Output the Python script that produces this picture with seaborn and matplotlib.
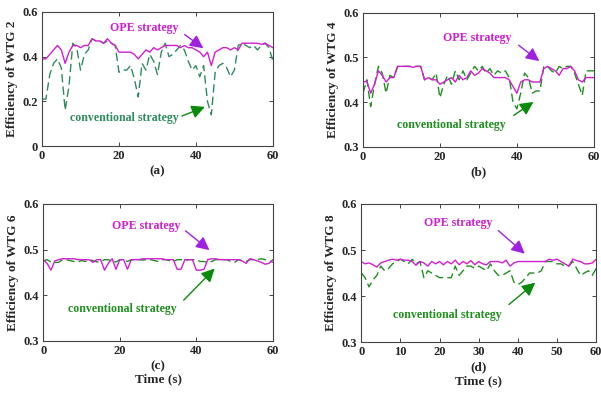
import numpy as np
import pandas as pd
import matplotlib
matplotlib.use("Agg")
import matplotlib.pyplot as plt
import seaborn as sns

# ---------------------------------------------------------------
# data (efficiency vs time, 1 s sampling)
# ---------------------------------------------------------------
time_s = list(range(61))

ope_wtg2 = [0.39, 0.39, 0.41, 0.43, 0.45, 0.43, 0.37, 0.42, 0.45, 0.45,
            0.44, 0.45, 0.45, 0.48, 0.47, 0.47, 0.46, 0.48, 0.46, 0.45,
            0.42, 0.42, 0.42, 0.42, 0.41, 0.39, 0.41, 0.43, 0.42, 0.44,
            0.43, 0.44, 0.45, 0.45, 0.45, 0.45, 0.44, 0.45, 0.44, 0.44,
            0.43, 0.42, 0.40, 0.42, 0.36, 0.42, 0.43, 0.44, 0.44, 0.43,
            0.44, 0.43, 0.46, 0.46, 0.46, 0.46, 0.46, 0.455, 0.46, 0.45,
            0.44]
conv_wtg2 = [0.21, 0.21, 0.32, 0.37, 0.39, 0.35, 0.16, 0.27, 0.46, 0.44,
             0.34, 0.41, 0.43, 0.48, 0.47, 0.47, 0.46, 0.47, 0.46, 0.45,
             0.33, 0.34, 0.34, 0.36, 0.30, 0.22, 0.37, 0.34, 0.41, 0.38,
             0.32, 0.42, 0.46, 0.40, 0.41, 0.43, 0.45, 0.43, 0.38, 0.34,
             0.36, 0.31, 0.36, 0.20, 0.14, 0.33, 0.36, 0.37, 0.35, 0.31,
             0.34, 0.45, 0.46, 0.45, 0.44, 0.45, 0.43, 0.45, 0.46, 0.44,
             0.38]

ope_wtg4 = [0.445, 0.447, 0.42, 0.44, 0.47, 0.46, 0.445, 0.455, 0.455, 0.48,
            0.48, 0.48, 0.48, 0.478, 0.48, 0.48, 0.45, 0.455, 0.45, 0.45,
            0.44, 0.445, 0.45, 0.455, 0.445, 0.46, 0.45, 0.455, 0.47, 0.46,
            0.465, 0.475, 0.47, 0.465, 0.455, 0.455, 0.455, 0.455, 0.45, 0.435,
            0.42, 0.445, 0.45, 0.45, 0.445, 0.445, 0.445, 0.475, 0.48, 0.475,
            0.47, 0.46, 0.475, 0.475, 0.48, 0.47, 0.45, 0.445, 0.455, 0.455,
            0.455]
conv_wtg4 = [0.42, 0.45, 0.39, 0.44, 0.48, 0.465, 0.42, 0.46, 0.455, 0.48,
             0.48, 0.48, 0.48, 0.48, 0.48, 0.48, 0.45, 0.455, 0.45, 0.465,
             0.41, 0.44, 0.46, 0.44, 0.47, 0.45, 0.47, 0.45, 0.465, 0.48,
             0.47, 0.48, 0.465, 0.475, 0.46, 0.47, 0.465, 0.47, 0.455, 0.40,
             0.385, 0.42, 0.465, 0.455, 0.42, 0.425, 0.425, 0.48, 0.48, 0.47,
             0.465, 0.48, 0.475, 0.48, 0.48, 0.465, 0.44, 0.415, 0.47, 0.47,
             0.47]

ope_wtg6 = [0.478, 0.47, 0.455, 0.475, 0.478, 0.48, 0.48, 0.48, 0.48, 0.478,
            0.478, 0.478, 0.478, 0.472, 0.478, 0.478, 0.455, 0.47, 0.48, 0.457,
            0.478, 0.478, 0.457, 0.478, 0.478, 0.478, 0.48, 0.48, 0.48, 0.48,
            0.48, 0.48, 0.478, 0.478, 0.478, 0.457, 0.457, 0.478, 0.478, 0.478,
            0.455, 0.455, 0.457, 0.478, 0.48, 0.48, 0.478, 0.478, 0.478, 0.478,
            0.478, 0.478, 0.475, 0.47, 0.48, 0.478, 0.475, 0.472, 0.468, 0.47,
            0.478]
conv_wtg6 = [0.475, 0.478, 0.473, 0.472, 0.472, 0.478, 0.478, 0.476, 0.474, 0.473,
             0.476, 0.474, 0.478, 0.476, 0.473, 0.474, 0.478, 0.478, 0.474, 0.473,
             0.478, 0.478, 0.474, 0.478, 0.476, 0.478, 0.477, 0.478, 0.478, 0.476,
             0.474, 0.478, 0.478, 0.476, 0.474, 0.478, 0.478, 0.476, 0.478, 0.478,
             0.478, 0.474, 0.474, 0.472, 0.474, 0.478, 0.478, 0.478, 0.478, 0.474,
             0.472, 0.478, 0.476, 0.474, 0.478, 0.478, 0.478, 0.48, 0.478, 0.476,
             0.472]

ope_wtg8 = [0.475, 0.47, 0.472, 0.468, 0.463, 0.472, 0.475, 0.478, 0.48, 0.478,
            0.48, 0.478, 0.478, 0.475, 0.467, 0.475, 0.472, 0.465, 0.475, 0.47,
            0.475, 0.468, 0.475, 0.47, 0.478, 0.468, 0.475, 0.47, 0.477, 0.468,
            0.475, 0.47, 0.468, 0.475, 0.475, 0.475, 0.472, 0.478, 0.465, 0.472,
            0.475, 0.475, 0.475, 0.475, 0.475, 0.475, 0.475, 0.475, 0.48, 0.478,
            0.48, 0.475, 0.47, 0.465, 0.48, 0.477, 0.475, 0.47, 0.47, 0.472,
            0.48]
conv_wtg8 = [0.45, 0.44, 0.42, 0.435, 0.445, 0.465, 0.455, 0.46, 0.47, 0.475,
             0.48, 0.475, 0.47, 0.48, 0.47, 0.475, 0.44, 0.455, 0.45, 0.445,
             0.44, 0.44, 0.44, 0.44, 0.465, 0.445, 0.455, 0.465, 0.465, 0.46,
             0.465, 0.46, 0.455, 0.47, 0.455, 0.445, 0.445, 0.45, 0.455, 0.43,
             0.425, 0.43, 0.44, 0.45, 0.45, 0.45, 0.455, 0.475, 0.475, 0.475,
             0.47, 0.47, 0.465, 0.465, 0.475, 0.46, 0.445, 0.45, 0.455, 0.445,
             0.46]

panel_tags = ["(a)", "(b)", "(c)", "(d)"]
wtg_ids = [2, 4, 6, 8]

# ---------------------------------------------------------------
# style
# ---------------------------------------------------------------
sns.set_style("ticks")
plt.rcParams["font.family"] = ["Liberation Serif", "DejaVu Serif"]
plt.rcParams["font.weight"] = "bold"
plt.rcParams["axes.labelweight"] = "bold"
plt.rcParams["xtick.direction"] = "in"
plt.rcParams["ytick.direction"] = "in"

OPE_COLOR = "#d11ed1"
CONV_COLOR = ["#2e8b5f", "#1f8f1f", "#1f8f1f", "#1f8f1f"]
ARROW_OPE = "#a020e0"
ARROW_CONV = "#0a8a0a"
FS_LABEL = 9.5
FS_NOTE = 8.6
ARROW = "-|>,head_length=0.8,head_width=0.4"

fig = plt.figure(figsize=(6.01, 3.96), dpi=100)
rects = [
    [0.070, 0.631, 0.384, 0.339],
    [0.604, 0.629, 0.384, 0.339],
    [0.072, 0.139, 0.382, 0.346],
    [0.601, 0.136, 0.391, 0.349],
]
axes = [fig.add_axes(r) for r in rects]

ope_all = [ope_wtg2, ope_wtg4, ope_wtg6, ope_wtg8]
conv_all = [conv_wtg2, conv_wtg4, conv_wtg6, conv_wtg8]

# annotation positions: (text xy, arrow tail, arrow head) in data coords
ope_notes = [((26.6, 0.530), (36.5, 0.506), (42.5, 0.430)),
             ((29.8, 0.543), (39.9, 0.531), (46.4, 0.488)),
             ((26.8, 0.552), (36.6, 0.545), (44.0, 0.495)),
             ((24.8, 0.559), (34.5, 0.546), (42.3, 0.488))]
conv_notes = [((21.3, 0.125), (35.7, 0.130), (43.0, 0.180)),
              ((23.1, 0.349), (38.6, 0.367), (44.9, 0.404)),
              ((20.6, 0.369), (36.2, 0.385), (45.3, 0.463)),
              ((22.0, 0.360), (37.2, 0.378), (45.0, 0.433))]

for i, ax in enumerate(axes):
    df = pd.DataFrame({"t": time_s, "ope": ope_all[i], "conv": conv_all[i]})
    sns.lineplot(data=df, x="t", y="conv", ax=ax, color=CONV_COLOR[i],
                 lw=1.0, linestyle=(0, (6, 3)))
    sns.lineplot(data=df, x="t", y="ope", ax=ax, color=OPE_COLOR, lw=1.0)

    ax.set_xlim(0, 60)
    if i == 0:
        ax.set_ylim(0, 0.6)
        ax.set_yticks([0, 0.2, 0.4, 0.6])
        ax.set_yticklabels(["0", "0.2", "0.4", "0.6"])
    else:
        ax.set_ylim(0.3, 0.6)
        ax.set_yticks([0.3, 0.4, 0.5, 0.6])
    if i == 3:
        ax.set_xticks(range(0, 61, 10))
    else:
        ax.set_xticks([0, 20, 40, 60])

    ax.tick_params(labelsize=9, length=3, width=0.6, top=True, right=True,
                   colors="#262626", pad=3)
    for sp in ax.spines.values():
        sp.set_linewidth(0.8)
        sp.set_color("#444444")

    ax.set_ylabel(f"Efficiency of WTG {wtg_ids[i]}", fontsize=FS_LABEL, labelpad=3)
    if i >= 2:
        ax.set_xlabel(f"{panel_tags[i]}\nTime (s)", fontsize=FS_LABEL, labelpad=2,
                      linespacing=1.2)
    else:
        ax.set_xlabel(panel_tags[i], fontsize=FS_LABEL, labelpad=2)

    txt, tail, head = ope_notes[i]
    ax.text(txt[0], txt[1], "OPE strategy", color=OPE_COLOR, fontsize=FS_NOTE,
            fontweight="bold", ha="center", va="center")
    ax.annotate("", xy=head, xytext=tail,
                arrowprops=dict(arrowstyle=ARROW, color=ARROW_OPE, lw=1.0))
    txt, tail, head = conv_notes[i]
    ax.text(txt[0], txt[1], "conventional strategy", color=CONV_COLOR[i],
            fontsize=FS_NOTE, fontweight="bold", ha="center", va="center")
    ax.annotate("", xy=head, xytext=tail,
                arrowprops=dict(arrowstyle=ARROW, color=ARROW_CONV, lw=1.0))

fig.savefig("out.png", dpi=100)
